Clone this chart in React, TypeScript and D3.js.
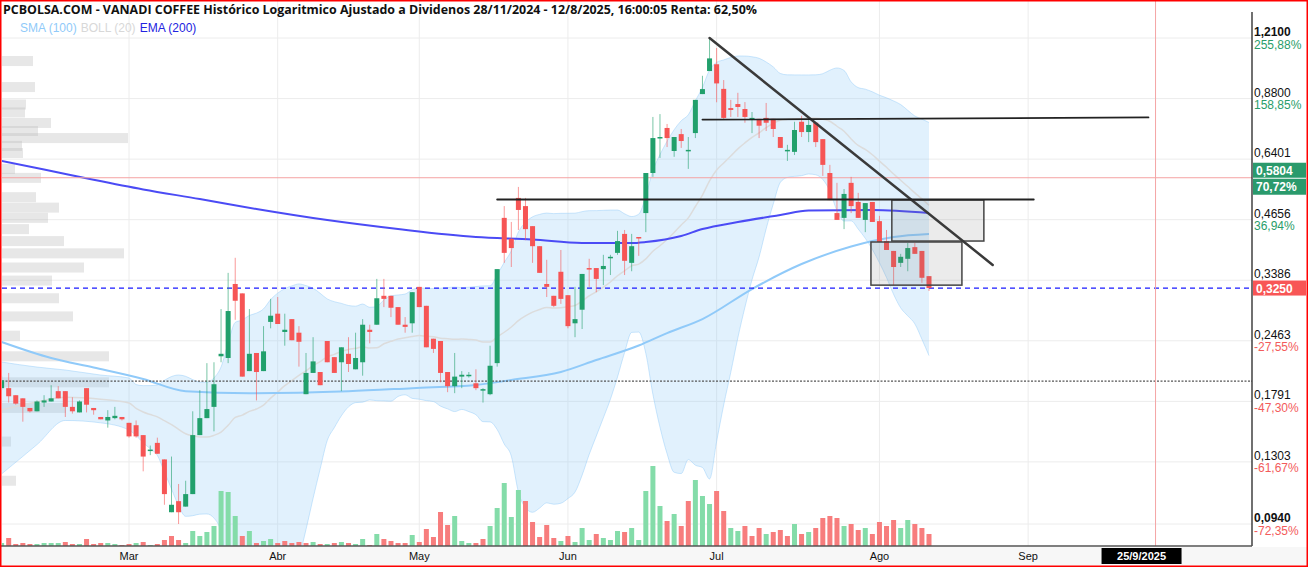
import * as d3 from 'd3'

const title =
  'PCBOLSA.COM - VANADI COFFEE Histórico Logaritmico Ajustado a Dividenos 28/11/2024 - 12/8/2025, 16:00:05 Renta: 62,50%'

// sessions: first visible one is 5/2/2025, BME holidays removed
const firstSession = new Date(2025, 1, 5)
const holidays = ['2025-04-18', '2025-04-21', '2025-05-01']
const monthLabels = ['Mar', 'Abr', 'May', 'Jun', 'Jul', 'Ago', 'Sep']
const markerDate = '2025-09-25'
const markerLabel = '25/9/2025'

// [open, high, low, close] one per session
const candles: [number, number, number, number][] = [
  [0.192, 0.205, 0.19, 0.2], [0.192, 0.208, 0.178, 0.184], [0.185, 0.185, 0.176, 0.177], [0.182, 0.182, 0.161, 0.174],
  [0.173, 0.173, 0.169, 0.17], [0.17, 0.18, 0.17, 0.179], [0.178, 0.185, 0.174, 0.18], [0.179, 0.195, 0.179, 0.182],
  [0.189, 0.194, 0.182, 0.182], [0.189, 0.189, 0.165, 0.174], [0.174, 0.183, 0.168, 0.17], [0.169, 0.18, 0.169, 0.179],
  [0.192, 0.192, 0.169, 0.176], [0.173, 0.173, 0.167, 0.171], [0.165, 0.165, 0.163, 0.163], [0.162, 0.171, 0.156, 0.165],
  [0.164, 0.174, 0.163, 0.166], [0.165, 0.165, 0.162, 0.163], [0.16, 0.16, 0.148, 0.149], [0.158, 0.162, 0.148, 0.149],
  [0.15, 0.15, 0.124, 0.134], [0.138, 0.142, 0.135, 0.139], [0.144, 0.148, 0.136, 0.136], [0.132, 0.132, 0.104, 0.11],
  [0.1, 0.134, 0.1, 0.104], [0.106, 0.116, 0.094, 0.1], [0.103, 0.118, 0.103, 0.11], [0.11, 0.17, 0.11, 0.15],
  [0.15, 0.19, 0.15, 0.164], [0.164, 0.219, 0.164, 0.172], [0.174, 0.22, 0.153, 0.196], [0.227, 0.291, 0.22, 0.23],
  [0.225, 0.352, 0.219, 0.288], [0.332, 0.381, 0.275, 0.304], [0.316, 0.316, 0.204, 0.204], [0.21, 0.291, 0.21, 0.23],
  [0.231, 0.231, 0.18, 0.209], [0.21, 0.266, 0.21, 0.233], [0.272, 0.307, 0.263, 0.281], [0.284, 0.31, 0.269, 0.269],
  [0.258, 0.284, 0.24, 0.261], [0.276, 0.276, 0.247, 0.247], [0.257, 0.266, 0.215, 0.245], [0.186, 0.231, 0.186, 0.208],
  [0.208, 0.251, 0.208, 0.221], [0.209, 0.209, 0.195, 0.195], [0.246, 0.246, 0.22, 0.22], [0.226, 0.226, 0.208, 0.208],
  [0.22, 0.238, 0.189, 0.238], [0.23, 0.251, 0.209, 0.218], [0.212, 0.257, 0.212, 0.225], [0.22, 0.276, 0.205, 0.268],
  [0.261, 0.268, 0.243, 0.258], [0.268, 0.341, 0.268, 0.308], [0.312, 0.341, 0.294, 0.307], [0.312, 0.312, 0.279, 0.293],
  [0.294, 0.294, 0.268, 0.268], [0.268, 0.279, 0.257, 0.265], [0.27, 0.318, 0.257, 0.318], [0.327, 0.327, 0.294, 0.294],
  [0.296, 0.296, 0.238, 0.238], [0.249, 0.249, 0.231, 0.236], [0.246, 0.246, 0.198, 0.208], [0.209, 0.209, 0.188, 0.194],
  [0.194, 0.231, 0.187, 0.204], [0.204, 0.21, 0.192, 0.206], [0.205, 0.209, 0.203, 0.206], [0.197, 0.212, 0.19, 0.192],
  [0.19, 0.192, 0.178, 0.191], [0.186, 0.24, 0.185, 0.216], [0.219, 0.359, 0.215, 0.359], [0.47, 0.5, 0.371, 0.391],
  [0.421, 0.46, 0.363, 0.401], [0.522, 0.553, 0.441, 0.49], [0.5, 0.522, 0.418, 0.443], [0.45, 0.45, 0.371, 0.405],
  [0.405, 0.405, 0.352, 0.352], [0.332, 0.377, 0.31, 0.327], [0.312, 0.312, 0.294, 0.296], [0.354, 0.397, 0.299, 0.307],
  [0.313, 0.313, 0.263, 0.266], [0.27, 0.327, 0.251, 0.276], [0.29, 0.35, 0.262, 0.35], [0.361, 0.379, 0.327, 0.359],
  [0.361, 0.361, 0.318, 0.341], [0.359, 0.387, 0.33, 0.365], [0.381, 0.387, 0.348, 0.383], [0.391, 0.439, 0.387, 0.416],
  [0.432, 0.441, 0.348, 0.375], [0.371, 0.432, 0.355, 0.405], [0.425, 0.425, 0.385, 0.423], [0.482, 0.595, 0.436, 0.595],
  [0.595, 0.799, 0.583, 0.715], [0.715, 0.811, 0.644, 0.719], [0.754, 0.77, 0.682, 0.715], [0.668, 0.719, 0.648, 0.719],
  [0.73, 0.75, 0.679, 0.704], [0.668, 0.719, 0.608, 0.672], [0.734, 0.874, 0.715, 0.874], [0.901, 0.992, 0.901, 0.925],
  [1.017, 1.21, 1.017, 1.087], [1.054, 1.148, 0.863, 0.953], [0.926, 0.97, 0.787, 0.795], [0.837, 0.874, 0.799, 0.829],
  [0.855, 0.907, 0.799, 0.842], [0.833, 0.864, 0.775, 0.799], [0.791, 0.82, 0.734, 0.795], [0.791, 0.791, 0.715, 0.763],
  [0.795, 0.86, 0.742, 0.775], [0.791, 0.791, 0.719, 0.75], [0.719, 0.719, 0.679, 0.679], [0.668, 0.69, 0.634, 0.672],
  [0.665, 0.779, 0.654, 0.746], [0.779, 0.804, 0.719, 0.738], [0.738, 0.787, 0.7, 0.766], [0.775, 0.775, 0.682, 0.7],
  [0.711, 0.711, 0.586, 0.621], [0.595, 0.621, 0.516, 0.516], [0.482, 0.565, 0.465, 0.465], [0.47, 0.547, 0.443, 0.533],
  [0.565, 0.583, 0.482, 0.5], [0.511, 0.536, 0.47, 0.47], [0.465, 0.508, 0.436, 0.508], [0.511, 0.511, 0.46, 0.46],
  [0.462, 0.475, 0.414, 0.414], [0.416, 0.441, 0.397, 0.397], [0.395, 0.395, 0.33, 0.363], [0.371, 0.389, 0.363, 0.383],
  [0.379, 0.412, 0.355, 0.401], [0.403, 0.412, 0.389, 0.389], [0.395, 0.395, 0.334, 0.343], [0.346, 0.346, 0.32, 0.325],
]

// volume, thousands of shares
const volumes = [
  3, 8, 2, 3, 2, 2, 3, 3, 3, 4, 2, 2, 7, 2, 3, 3, 2, 1, 2, 3, 4, 1, 2,
  6, 10, 6, 3, 15, 10, 14, 20, 55, 54, 30, 10, 15, 3, 5, 7, 3, 5, 3, 4, 3, 4, 2, 2, 3, 4, 3, 2, 7, 1,
  12, 7, 5, 3, 3, 11, 4, 17, 9, 34, 21, 30, 5, 3, 3, 7, 20, 38, 63, 29, 56, 45, 24, 9, 21,
  8, 5, 10, 4, 18, 6, 12, 8, 6, 15, 14, 18, 6, 55, 80, 40, 25, 32, 20, 45, 66, 50, 42, 55, 35, 18,
  15, 20, 10, 18, 12, 14, 16, 10, 22, 12, 14, 18, 28, 30, 28, 20, 22, 16, 18, 12, 24, 20, 26, 18, 26, 22, 18, 12,
]

// volume at price (left profile)
const profilePrices = [1.072, 0.935, 0.853, 0.818, 0.774, 0.742, 0.715, 0.686, 0.661, 0.608, 0.58, 0.524, 0.496, 0.47,
  0.443, 0.416, 0.39, 0.362, 0.338, 0.308, 0.28, 0.253, 0.227, 0.198, 0.173, 0.145, 0.118]
const profileVolumes = [31, 33, 24, 23, 49, 36, 126, 20, 21, 13, 39, 34, 57, 46, 27, 62, 122, 82, 50, 57, 71, 18, 107,
  107, 64, 9, 14]

// indicators (session index, value)
const sma100: [number, number][] = [
  [0, 0.2447], [7, 0.2249], [13, 0.214], [20, 0.2015], [26, 0.189], [35, 0.187], [49, 0.189], [58, 0.192],
  [67, 0.1952], [72, 0.2004], [79, 0.209], [84, 0.2226], [90, 0.2402], [94, 0.2565], [99, 0.2761], [106, 0.3233],
  [113, 0.3687], [120, 0.4043], [126, 0.425], [131, 0.4317],
]
const ema200: [number, number][] = [
  [0, 0.6338], [6, 0.606], [13, 0.574], [20, 0.5456], [28, 0.519], [36, 0.4924], [46, 0.4646], [56, 0.4432],
  [67, 0.425], [75, 0.4194], [82, 0.4118], [89, 0.4118], [91, 0.414], [96, 0.4273], [99, 0.4432], [104, 0.4598],
  [110, 0.4771], [114, 0.4885], [123, 0.49], [131, 0.4822],
]
// bollinger before 20 sessions are available
const bollHeadIndex = [0, 5, 9, 14, 18]
const bollHeadUpper = [0.2203, 0.2145, 0.2112, 0.2057, 0.2025]
const bollHeadMid = [0.1713, 0.1786, 0.1831, 0.1812, 0.1776]
const bollHeadLower = [0.1223, 0.1427, 0.162, 0.16, 0.154]

const tickValues = [1.21, 0.88, 0.6401, 0.4656, 0.3386, 0.2463, 0.1791, 0.1303, 0.094]
const tickLabels = ['1,2100', '0,8800', '0,6401', '0,4656', '0,3386', '0,2463', '0,1791', '0,1303', '0,0940']
// null where the price tags cover the percentage
const tickPct = ['255,88%', '158,85%', null, '36,94%', null, '-27,55%', '-47,30%', '-61,67%', '-72,35%']

const lastPrice = 0.325
const lastLabel = '0,3250'
const alertPrice = 0.5804
const alertLabel = '0,5804'
const alertPct = '70,72%'
const supportLevel = 0.1993

// drawings: [session, price]
const trendLines: [[number, number], [number, number]][] = [
  [[100, 1.21], [140, 0.367]],
  [[99, 0.788], [162, 0.797]],
  [[70, 0.5176], [145.8, 0.5176]],
]
const boxes: [number, number, number, number][] = [
  [125.75, 138.75, 0.5163, 0.4161],
  [122.8, 135.65, 0.414, 0.33],
]

const GREEN = '#21a06c'
const RED = '#f65555'

export default function App() {
  const W = 1308
  const H = 567
  const left = 2
  const right = 1252
  const bottom = 546

  const fmtDay = d3.timeFormat('%Y-%m-%d')
  const sessions = d3.timeDay
    .range(firstSession, new Date(2025, 9, 31))
    .filter(d => d.getDay() !== 0 && d.getDay() !== 6 && !holidays.includes(fmtDay(d)))
  const monthTicks = monthLabels.map((label, k) => ({
    label,
    i: sessions.findIndex(d => d.getMonth() === k + 2),
  }))
  const markerIndex = sessions.findIndex(d => fmtDay(d) === markerDate)

  const x = d3.scaleLinear().domain([0, 131]).range([1.6, 929])
  const y = d3.scaleLog().domain([0.094, 1.21]).range([524, 38])
  const vy = d3.scaleLinear().domain([0, 100]).range([bottom, bottom - 100])
  const pw = d3.scaleLinear().domain([0, 100]).range([0, 100])

  // bollinger (20, 2)
  const boll = bollHeadIndex.map((i, k) => ({
    i, upper: bollHeadUpper[k], mid: bollHeadMid[k], lower: bollHeadLower[k],
  }))
  for (let i = 19; i < candles.length; i++) {
    const win = candles.slice(i - 19, i + 1).map(c => c[3])
    const m = d3.mean(win) as number
    const sd = Math.sqrt(d3.mean(win, v => (v - m) ** 2) as number)
    boll.push({ i, upper: m + 2 * sd, mid: m, lower: Math.max(m - 2 * sd, 0.03) })
  }

  const bandArea = d3.area<typeof boll[0]>()
    .x(d => x(d.i)).y0(d => y(d.lower)).y1(d => y(d.upper))
    .curve(d3.curveMonotoneX)
  const bandLine = (key: 'upper' | 'mid' | 'lower') =>
    d3.line<typeof boll[0]>().x(d => x(d.i)).y(d => y(d[key])).curve(d3.curveMonotoneX)(boll) || ''
  const seriesLine = d3.line<[number, number]>()
    .x(d => x(d[0])).y(d => y(d[1])).curve(d3.curveMonotoneX)

  const bw = 5

  return (
    <svg width={W} height={H} style={{ position: 'absolute', left: 0, top: 0, fontFamily: 'Liberation Sans, Arial, sans-serif' }}>
      <defs>
        <clipPath id="plot">
          <rect x={left} y={0} width={right - left} height={bottom} />
        </clipPath>
      </defs>
      <rect width={W} height={H} fill="#fff" />
      <rect x={0} y={bottom + 1} width={W} height={H - bottom - 1} fill="#f7f7f7" />

      <g clipPath="url(#plot)">
        {tickValues.map(v => (
          <line key={v} x1={left} x2={right} y1={y(v)} y2={y(v)} stroke="#ececec" />
        ))}
        {monthTicks.map(m => (
          <line key={m.label} x1={x(m.i)} x2={x(m.i)} y1={0} y2={bottom} stroke="#ececec" />
        ))}

        {profilePrices.map((p, k) => (
          <rect key={k} x={left} y={y(p) - 5} width={pw(profileVolumes[k])} height={10} fill="rgba(185,185,185,0.35)" />
        ))}

        <path d={bandArea(boll) || ''} fill="rgba(144,202,249,0.27)" />
        <path d={bandLine('upper')} fill="none" stroke="rgba(144,202,249,0.45)" strokeWidth={1} />
        <path d={bandLine('lower')} fill="none" stroke="rgba(144,202,249,0.45)" strokeWidth={1} />
        <path d={bandLine('mid')} fill="none" stroke="#dcdcdc" strokeWidth={1.5} />
        <path d={seriesLine(sma100) || ''} fill="none" stroke="#90caf9" strokeWidth={2} />
        <path d={seriesLine(ema200) || ''} fill="none" stroke="#4b4bf5" strokeWidth={2} />

        <line x1={left} x2={right} y1={y(alertPrice)} y2={y(alertPrice)} stroke="#f5a3a3" strokeWidth={1} />
        <line x1={left} x2={right} y1={y(supportLevel)} y2={y(supportLevel)} stroke="#555" strokeWidth={1.2} strokeDasharray="2,1.5" />
        <line x1={left} x2={right} y1={y(lastPrice)} y2={y(lastPrice)} stroke="#1a1aff" strokeWidth={1.2} strokeDasharray="5,4" />

        {volumes.map((v, i) => {
          const up = i === 0 ? candles[0][3] >= candles[0][0] : candles[i][3] >= candles[i - 1][3]
          return (
            <rect key={i} x={x(i) - bw / 2} y={vy(v)} width={bw} height={bottom - vy(v)}
              fill={up ? '#84dca9' : '#f77d7d'} />
          )
        })}

        {candles.map(([o, h, l, c], i) => {
          const col = c >= o ? GREEN : RED
          const top = y(Math.max(o, c))
          const hgt = Math.max(1.5, Math.abs(y(o) - y(c)))
          return (
            <g key={i}>
              <line x1={x(i)} x2={x(i)} y1={y(h)} y2={y(l)} stroke={col} strokeOpacity={0.6} strokeWidth={1} />
              <rect x={x(i) - bw / 2} y={top} width={bw} height={hgt} fill={col} />
            </g>
          )
        })}

        {boxes.map((b, k) => (
          <rect key={k} x={x(b[0])} y={y(b[2])} width={x(b[1]) - x(b[0])} height={y(b[3]) - y(b[2])}
            fill="rgba(120,120,120,0.15)" stroke="#444" strokeWidth={1.5} />
        ))}
        {trendLines.map((t, k) => (
          <line key={k} x1={x(t[0][0])} y1={y(t[0][1])} x2={x(t[1][0])} y2={y(t[1][1])}
            stroke={k === 0 ? '#3a3a3a' : '#222'} strokeWidth={k === 0 ? 2.5 : 1.8} strokeLinecap="round" />
        ))}

        <line x1={x(markerIndex)} x2={x(markerIndex)} y1={0} y2={bottom} stroke="#f4a5a5" strokeWidth={1} />
      </g>

      {/* axes */}
      <line x1={right} x2={right} y1={12} y2={bottom} stroke="#111" strokeWidth={1.2} />
      <line x1={0} x2={right} y1={bottom} y2={bottom} stroke="#555" strokeWidth={1.5} />

      {tickValues.map((v, k) => (
        <g key={v}>
          <text x={right + 2} y={y(v) - 2} fontSize={12} fill="#111" fontWeight={k === 0 || k === tickValues.length - 1 ? 700 : 400}>
            {tickLabels[k]}
          </text>
          {tickPct[k] && (
            <text x={right + 2} y={y(v) + 10.5} fontSize={12} fill={tickPct[k]!.startsWith('-') ? '#f35b5b' : '#2a9d6a'}>
              {tickPct[k]}
            </text>
          )}
        </g>
      ))}

      <rect x={right + 1} y={y(alertPrice) - 15} width={53} height={15} fill="#2a9a6c" />
      <text x={right + 4} y={y(alertPrice) - 3} fontSize={12} fontWeight={700} fill="#fff">{alertLabel}</text>
      <rect x={right + 1} y={y(alertPrice) + 1} width={53} height={16} fill="#2a9a6c" />
      <text x={right + 4} y={y(alertPrice) + 13} fontSize={12} fontWeight={700} fill="#fff">{alertPct}</text>
      <rect x={right + 1} y={y(lastPrice) - 7.5} width={53} height={15} fill="#f85656" />
      <text x={right + 4} y={y(lastPrice) + 4.5} fontSize={12} fontWeight={700} fill="#fff">{lastLabel}</text>

      {monthTicks.map(m => (
        <text key={m.label} x={x(m.i)} y={560} fontSize={11} textAnchor="middle" fill="#111">{m.label}</text>
      ))}
      <rect x={x(markerIndex) - 54} y={548} width={80} height={16} fill="#000" />
      <text x={x(markerIndex) - 14} y={560} fontSize={11} fontWeight={700} textAnchor="middle" fill="#fff">{markerLabel}</text>

      <text x={3} y={14} fontSize={13} fontWeight={700} fill="#111" textLength={754} lengthAdjust="spacingAndGlyphs"
        style={{ fontFamily: 'Open Sans, sans-serif' }}>
        {title}
      </text>
      <text x={20} y={31.5} fontSize={12}>
        <tspan fill="#90caf9">SMA (100)</tspan>
        <tspan fill="#d8d8d8" dx={4}>BOLL (20)</tspan>
        <tspan fill="#2222e0" dx={4}>EMA (200)</tspan>
      </text>

      <rect x={0.75} y={0.75} width={W - 1.5} height={H - 1.5} fill="none" stroke="#f00" strokeWidth={1.5} />
    </svg>
  )
}
